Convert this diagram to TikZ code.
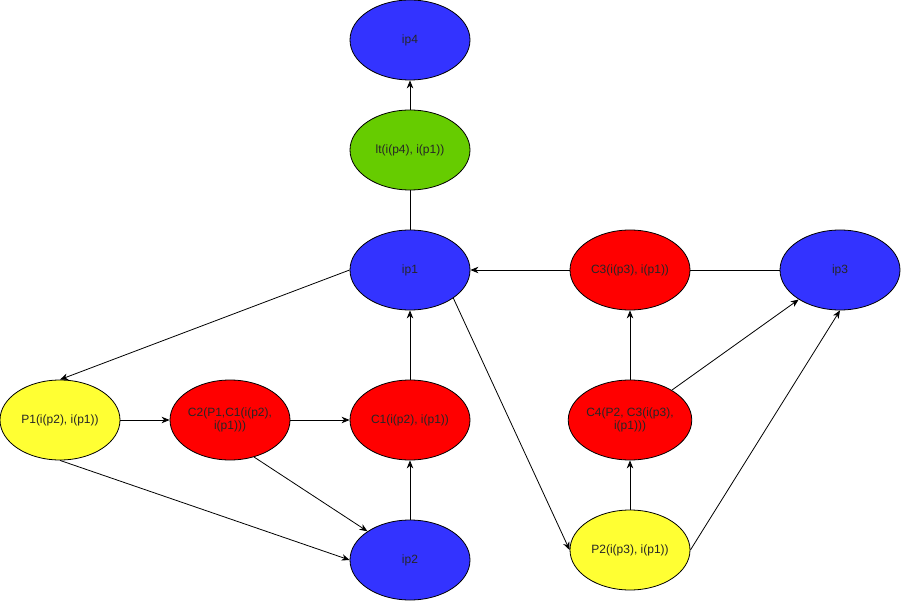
\documentclass[tikz,border=0pt]{standalone}
\usepackage{fontspec}
\setmainfont{Liberation Sans}
\usepackage{xcolor}
\usepackage{tikz}
\usetikzlibrary{arrows.meta,shapes.geometric}
\definecolor{ipblue}{HTML}{3333FF}
\definecolor{ipred}{HTML}{FF0000}
\definecolor{ipyel}{HTML}{FFFF33}
\definecolor{ipgrn}{HTML}{66CC00}
\tikzset{
  bub/.style={ellipse, draw=black, line width=0.8pt, fill=#1,
              minimum width=120pt, minimum height=80pt, inner sep=0pt,
              align=center, font=\fontsize{12}{13.5}\selectfont, text=black!85},
  bub/.default=ipblue,
  lnk/.style={draw=black, line width=0.8pt},
  arr/.style={lnk, -{Stealth[length=8pt,width=6.5pt,inset=2.5pt]}},
}

\begin{document}
\begin{tikzpicture}[x=1pt, y=-1pt]
  \useasboundingbox (0,0) rectangle (901,601);
  % top column
  \node[bub] (ip4) at (410,40) {ip4};
  \node[bub=ipgrn] (lt) at (410,150) {lt(i(p4), i(p1))};
  \node[bub] (ip1) at (410,270) {ip1};
  \node[bub=ipred] (c3) at (630,270) {C3(i(p3), i(p1))};
  \node[bub] (ip3) at (840,270) {ip3};
  % middle row
  \node[bub=ipyel] (p1) at (60,420) {P1(i(p2), i(p1))};
  \node[bub=ipred] (c2) at (230,420) {C2(P1,C1(i(p2),\\ i(p1)))};
  \node[bub=ipred] (c1) at (410,420) {C1(i(p2), i(p1))};
  \node[bub=ipred] (c4) at (630,420) {C4(P2, C3(i(p3),\\ i(p1)))};
  % bottom
  \node[bub] (ip2) at (410,560) {ip2};
  \node[bub=ipyel] (p2) at (630,550) {P2(i(p3), i(p1))};

  \draw[arr] (lt) -- (ip4);
  \draw[lnk] (ip1) -- (lt);
  \draw[arr] (c3) -- (ip1);
  \draw[lnk] (ip3) -- (c3);
  \draw[arr] (ip1.west) -- (p1.north);
  \draw[arr] (p1) -- (c2);
  \draw[arr] (c2) -- (c1);
  \draw[arr] (c1) -- (ip1);
  \draw[arr] (ip2) -- (c1);
  \draw[arr] (p1.south) -- (ip2.west);
  \draw[arr] (c2.-57) -- (ip2.146);
  \draw[arr] (ip1.-33) -- (p2.west);
  \draw[arr] (p2) -- (c4);
  \draw[arr] (c4) -- (c3);
  \draw[arr] (c4) -- (ip3);
  \draw[arr] (p2.east) -- (ip3.south);
\end{tikzpicture}
\end{document}
